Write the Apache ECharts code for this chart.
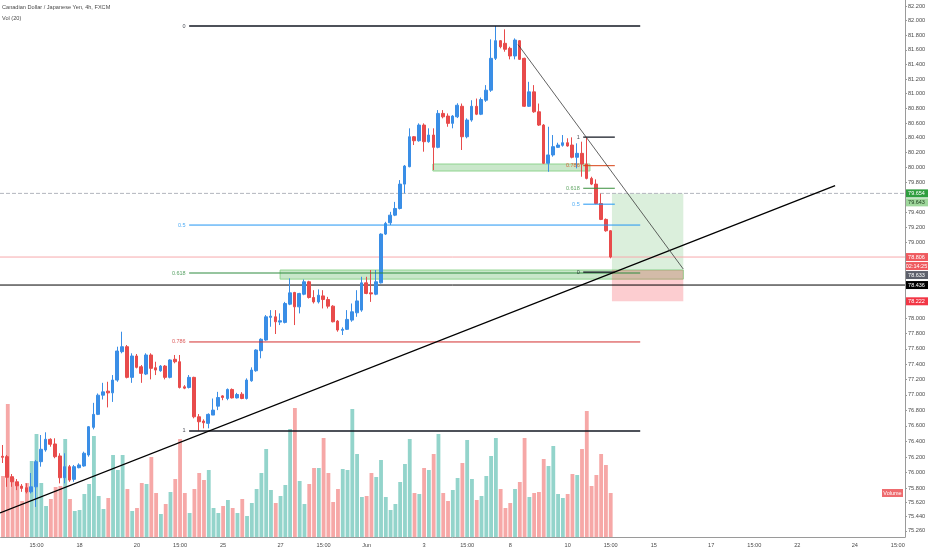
<!DOCTYPE html>
<html>
<head>
<meta charset="utf-8">
<script src="https://cdn.jsdelivr.net/npm/echarts@6/dist/echarts.min.js"></script>
<style>
    html, body { margin: 0; padding: 0; background: #ffffff; }
    #chart { width: 932px; height: 550px; }
</style>
</head>
<body>
<div id="chart"></div>
<script>
// time axis: one slot per 4h bar, labels on a few of them
const barCount = 189;
const tickBars = [7, 16, 28, 37, 46, 58, 67, 76, 88, 97, 106, 118, 127, 136, 148, 157, 166, 178, 187];
const tickTexts = ['15:00', '18', '20', '15:00', '25', '27', '15:00', 'Jun', '3', '15:00', '8', '10', '15:00', '15', '17', '15:00', '22', '24', '15:00'];

// price scale labels (chart is on log scale)
const priceTicks = [82.2, 82.0, 81.8, 81.6, 81.4, 81.2, 81.0, 80.8, 80.6, 80.4, 80.2, 80.0, 79.8,
    79.4, 79.2, 79.0, 78.0, 77.8, 77.6, 77.4, 77.2, 77.0, 76.8, 76.6, 76.4, 76.2, 76.0, 75.8,
    75.62, 75.44, 75.26];
const priceRange = [75.183, 82.286];

// [open, close, low, high]
const candles = [
    [76.210, 76.197, 76.124, 76.355], [76.205, 75.941, 75.820, 76.227], [75.949, 75.884, 75.820, 75.983],
    [75.884, 75.833, 75.778, 75.919], [75.829, 75.800, 75.756, 75.855], [75.808, 75.756, 75.736, 75.864],
    [75.756, 75.820, 75.736, 75.996], [75.820, 76.141, 75.564, 76.163], [76.141, 76.300, 76.077, 76.483],
    [76.291, 76.428, 76.269, 76.518], [76.428, 76.364, 76.333, 76.441], [76.368, 76.205, 76.185, 76.441],
    [76.214, 75.936, 75.864, 76.249], [75.936, 76.077, 75.864, 76.249], [76.077, 75.906, 75.884, 76.099],
    [75.915, 76.077, 75.884, 76.099], [76.064, 76.099, 76.056, 76.120], [76.086, 76.249, 76.077, 76.269],
    [76.227, 76.590, 76.205, 76.599], [76.582, 76.749, 76.556, 76.898], [76.749, 76.997, 76.740, 77.019],
    [76.997, 77.040, 76.941, 77.157], [77.049, 77.027, 76.839, 77.171], [77.027, 77.193, 76.910, 77.258],
    [77.193, 77.571, 77.171, 77.627], [77.562, 77.627, 77.541, 77.823], [77.627, 77.228, 77.215, 77.649],
    [77.228, 77.506, 77.157, 77.541], [77.506, 77.358, 77.345, 77.532], [77.366, 77.280, 77.157, 77.388],
    [77.271, 77.519, 77.258, 77.541], [77.519, 77.345, 77.202, 77.541], [77.353, 77.323, 77.258, 77.431],
    [77.314, 77.375, 77.301, 77.388], [77.375, 77.228, 77.202, 77.388], [77.228, 77.454, 77.215, 77.463],
    [77.463, 77.431, 77.411, 77.519], [77.431, 77.097, 77.084, 77.519], [77.105, 77.088, 77.075, 77.127],
    [77.097, 77.228, 77.084, 77.258], [77.228, 76.718, 76.698, 77.236], [76.718, 76.654, 76.539, 76.753],
    [76.663, 76.641, 76.569, 76.685], [76.633, 76.749, 76.569, 76.762], [76.740, 76.804, 76.740, 76.954],
    [76.855, 76.967, 76.804, 77.040], [76.988, 76.967, 76.932, 76.997], [76.954, 77.071, 76.932, 77.084],
    [77.071, 76.962, 76.954, 77.084], [76.962, 77.006, 76.954, 77.027], [77.010, 76.954, 76.945, 77.036],
    [76.954, 77.193, 76.941, 77.215], [77.184, 77.323, 77.171, 77.358], [77.314, 77.584, 77.301, 77.593],
    [77.575, 77.724, 77.476, 77.737], [77.714, 78.018, 77.705, 78.041], [78.011, 78.027, 77.888, 78.106],
    [78.018, 77.953, 77.793, 78.106], [77.949, 77.966, 77.910, 78.063], [77.945, 78.193, 77.932, 78.214],
    [78.184, 78.333, 78.171, 78.524], [78.338, 78.149, 77.910, 78.346], [78.149, 78.325, 78.063, 78.333],
    [78.315, 78.479, 78.302, 78.510], [78.479, 78.272, 78.258, 78.492], [78.272, 78.214, 78.193, 78.368],
    [78.214, 78.302, 78.193, 78.378], [78.293, 78.245, 78.128, 78.368], [78.245, 78.158, 78.128, 78.280],
    [78.158, 77.953, 77.945, 78.171], [77.962, 77.845, 77.823, 77.975], [77.841, 77.854, 77.780, 77.880],
    [77.854, 77.984, 77.845, 78.106], [77.975, 78.084, 77.953, 78.193], [78.071, 78.227, 78.018, 78.368],
    [78.106, 78.465, 78.084, 78.545], [78.465, 78.325, 78.315, 78.545], [78.333, 78.319, 78.214, 78.634],
    [78.315, 78.479, 78.302, 78.634], [78.465, 79.111, 78.457, 79.121], [79.111, 79.253, 79.098, 79.274],
    [79.261, 79.363, 79.231, 79.407], [79.363, 79.452, 79.350, 79.540], [79.452, 79.778, 79.439, 79.832],
    [79.778, 80.021, 79.653, 80.035], [80.012, 80.416, 80.004, 80.530], [80.416, 80.362, 80.304, 80.426],
    [80.362, 80.574, 80.349, 80.597], [80.574, 80.349, 80.214, 80.597], [80.349, 80.439, 80.335, 80.530],
    [80.439, 80.273, 79.967, 80.530], [80.273, 80.732, 80.260, 80.777], [80.732, 80.686, 80.665, 80.777],
    [80.696, 80.597, 80.551, 80.732], [80.597, 80.696, 80.530, 80.709], [80.686, 80.843, 80.669, 80.870],
    [80.829, 80.416, 80.237, 80.866], [80.416, 80.642, 80.395, 80.665], [80.642, 80.829, 80.619, 80.911],
    [80.829, 80.721, 80.709, 80.934], [80.721, 80.921, 80.709, 80.948], [80.911, 81.048, 80.888, 81.117],
    [81.048, 81.483, 81.025, 81.744], [81.483, 81.725, 81.460, 81.927], [81.725, 81.642, 81.620, 81.734],
    [81.689, 81.607, 81.574, 81.881], [81.620, 81.515, 81.469, 81.642], [81.515, 81.734, 81.469, 81.757],
    [81.725, 81.469, 81.460, 81.734], [81.483, 80.829, 80.819, 81.491], [80.829, 81.025, 80.819, 81.162],
    [81.025, 80.754, 80.740, 81.117], [80.754, 80.574, 80.561, 80.866], [80.574, 80.058, 80.048, 80.588],
    [80.058, 80.170, 79.944, 80.551], [80.170, 80.282, 80.147, 80.439], [80.273, 80.304, 80.264, 80.335],
    [80.300, 80.335, 80.282, 80.439], [80.335, 80.291, 80.282, 80.395], [80.304, 80.139, 80.125, 80.408],
    [80.139, 80.192, 79.990, 80.327], [80.192, 80.048, 79.877, 80.349], [80.048, 79.855, 79.842, 80.412],
    [79.855, 79.778, 79.765, 79.877], [79.778, 79.518, 79.509, 79.842], [79.518, 79.306, 79.297, 79.651],
    [79.306, 79.155, 79.142, 79.319], [79.155, 78.806, 78.789, 79.164]
];

const volumes = [
    6100, 13300, 5900, 5300, 3600, 5400, 7600, 10300, 5400, 3100,
    3800, 5000, 5100, 9800, 3800, 2600, 2700, 4300, 5300, 10100,
    4100, 2800, 3900, 8200, 6700, 8200, 4800, 2600, 2900, 5400,
    5300, 8000, 4400, 2300, 3300, 4500, 5800, 9800, 4400, 2400,
    4800, 6400, 5700, 6700, 2900, 2400, 3100, 3700, 2900, 2400,
    3800, 2100, 3400, 4800, 6400, 8800, 4700, 3400, 4100, 5200,
    10800, 12900, 5600, 3300, 5300, 6900, 6900, 9900, 6400, 3500,
    4800, 6800, 6700, 12800, 8300, 4000, 4100, 6400, 6000, 7700,
    4000, 2700, 3300, 5500, 7300, 9800, 4400, 4300, 6900, 6700,
    8300, 10300, 4400, 3600, 4700, 5900, 7400, 9700, 5800, 3700,
    4100, 6100, 8100, 9900, 4800, 2900, 3400, 4800, 5500, 9900,
    4000, 4400, 4500, 7800, 7100, 9100, 4300, 3900, 4300, 6300,
    6200, 8800, 12600, 5100, 6200, 8300, 7200, 4400
];
const volumeMax = 16100;

// drawings (bar index, price)
const bigFibLevels = [0, 0.5, 0.618, 0.786, 1];
const bigFibColors = ['#131722', '#2196f3', '#2e8b3e', '#d32f2f', '#131722'];
const bigFibPrices = [81.927, 76.535];
const bigFibBars = [39, 133.2];

const smallFibLevels = [1, 0.786, 0.618, 0.5, 0];
const smallFibColors = ['#131722', '#d84315', '#388e3c', '#2196f3', '#131722'];
const smallFibPrices = [78.607, 80.412];
const smallFibBars = [121.3, 127.9];

const zoneBars = [[89.9, 122.7], [58.0, 142.2]];
const zonePrices = [[79.954, 80.048], [78.514, 78.634]];

const positionBars = [127.3, 142.2];
const positionPrices = [78.222, 78.633, 79.654]; // stop, entry, target

const trendBars = [-0.5, 173.9];
const trendPrices = [75.487, 79.757];
const fallBars = [107.7, 142.2];
const fallPrices = [81.671, 78.647];

const levelPrices = [79.654, 78.806, 78.436];
const levelColors = ['#b2b5be', '#f7a9ac', '#000000'];
const levelTypes = ['dashed', 'solid', 'solid'];

const badgeTexts = ['79.654', '79.643', '78.806', '02:14:25', '78.633', '78.436', '78.222'];
const badgePrices = [79.654, 79.643, 78.806, 78.806, 78.633, 78.436, 78.222];
const badgeBgs = ['#2e9e3e', '#9fd79c', '#ef5a5f', '#ef5a5f', '#5d606b', '#000000', '#f23645'];
const badgeFgs = ['#ffffff', '#1b3d1c', '#ffffff', '#ffffff', '#ffffff', '#ffffff', '#ffffff'];

const font = '"Liberation Sans", Arial, sans-serif';
const ln = Math.log;

const categories = Array.from({ length: barCount }, (_, i) => String(i));
const labelAt = {};
tickBars.forEach((b, k) => { labelAt[b] = tickTexts[k]; });

const chart = echarts.init(document.getElementById('chart'));

function segment(bars, prices, color, width, type) {
    return {
        type: 'line', xAxisIndex: 1, yAxisIndex: 0, silent: true, symbol: 'none', z: 5,
        data: [[bars[0], ln(prices[0])], [bars[1], ln(prices[1])]],
        lineStyle: { color: color, width: width, type: type || 'solid' }
    };
}

function fibSeries(levels, colors, prices, bars, width) {
    const list = [];
    const labels = [];
    levels.forEach((lv, k) => {
        const p = prices[0] + lv * (prices[1] - prices[0]);
        const w = colors[k] === '#131722' ? width + 0.3 : width;
        list.push(segment(bars, [p, p], colors[k], w));
        labels.push({ name: String(lv), value: [bars[0], ln(p)], label: { color: colors[k] } });
    });
    list.push({
        type: 'scatter', xAxisIndex: 1, yAxisIndex: 0, silent: true, z: 6,
        symbolSize: 1, itemStyle: { color: 'rgba(0,0,0,0)' },
        label: { show: true, position: 'left', distance: 3, formatter: '{b}', fontSize: 5.5, fontFamily: font },
        data: labels
    });
    return list;
}

// full-width horizontal levels
const levelSeries = levelPrices.map((p, k) => {
    const s = segment([-0.5, barCount - 0.5], [p, p], levelColors[k], 1, levelTypes[k]);
    s.z = 2;
    return s;
});

const areas = zoneBars.map((b, k) => [
    { coord: [b[0], ln(zonePrices[k][1])], itemStyle: { color: 'rgba(76,175,80,0.3)', borderColor: '#8fd48f', borderWidth: 1 } },
    { coord: [b[1], ln(zonePrices[k][0])] }
]);
areas.push([
    { coord: [positionBars[0], ln(positionPrices[2])], itemStyle: { color: 'rgba(76,175,80,0.2)' } },
    { coord: [positionBars[1], ln(positionPrices[1])] }
]);
areas.push([
    { coord: [positionBars[0], ln(positionPrices[1])], itemStyle: { color: 'rgba(242,54,69,0.25)' } },
    { coord: [positionBars[1], ln(positionPrices[0])] }
]);

const volumeData = volumes.map((v, i) => ({
    value: v,
    itemStyle: { color: candles[i][1] >= candles[i][0] ? '#93d4cb' : '#f6a8a7' }
}));

const option = {
    animation: false,
    backgroundColor: '#ffffff',
    title: [
        { text: 'Canadian Dollar / Japanese Yen, 4h, FXCM', left: 2, top: 4, padding: 0, textStyle: { fontSize: 5.6, fontWeight: 'normal', color: '#4a4a4a', fontFamily: font } },
        { text: 'Vol (20)', left: 2, top: 15, padding: 0, textStyle: { fontSize: 5.6, fontWeight: 'normal', color: '#4a4a4a', fontFamily: font } }
    ],
    grid: [
        { left: 0, right: 27, top: 0, bottom: 13 },
        { left: 0, right: 27, top: 376, bottom: 13 }
    ],
    xAxis: [
        { type: 'category', gridIndex: 0, data: categories, show: false, boundaryGap: true },
        { type: 'value', gridIndex: 0, min: -0.5, max: barCount - 0.5, show: false },
        {
            type: 'category', gridIndex: 1, data: categories, boundaryGap: true,
            axisLine: { onZero: false, lineStyle: { color: '#9a9a9a', width: 1 } },
            axisTick: { show: false },
            axisLabel: {
                interval: 0, margin: 5, fontSize: 5.6, color: '#4a4a4a', fontFamily: font,
                formatter: (v, i) => labelAt[i] || ''
            }
        }
    ],
    yAxis: [
        {
            type: 'value', gridIndex: 0, position: 'right', scale: true,
            min: ln(priceRange[0]), max: ln(priceRange[1]),
            splitLine: { show: false },
            axisLine: { show: true, onZero: false, lineStyle: { color: '#9a9a9a', width: 1 } },
            axisTick: { show: true, length: 2, customValues: priceTicks.map(ln), lineStyle: { color: '#9a9a9a' } },
            axisLabel: {
                customValues: priceTicks.map(ln), margin: 3, fontSize: 5.6, color: '#4a4a4a', fontFamily: font,
                formatter: v => Math.exp(v).toFixed(3)
            }
        },
        { type: 'value', gridIndex: 1, min: 0, max: volumeMax, show: false }
    ],
    series: [
        {
            type: 'bar', xAxisIndex: 2, yAxisIndex: 1, barWidth: '80%', silent: true, z: 1,
            data: volumeData
        },
        {
            type: 'line', xAxisIndex: 1, yAxisIndex: 0, data: [], silent: true, z: 1,
            markArea: { silent: true, label: { show: false }, data: areas }
        },
        ...levelSeries,
        {
            type: 'candlestick', xAxisIndex: 0, yAxisIndex: 0, barWidth: '66%', z: 3,
            data: candles.map(r => r.map(ln)),
            itemStyle: {
                color: '#3a8ee6', color0: '#e84b4b',
                borderColor: '#3a8ee6', borderColor0: '#e84b4b', borderWidth: 1
            }
        },
        ...fibSeries(bigFibLevels, bigFibColors, bigFibPrices, bigFibBars, 1),
        ...fibSeries(smallFibLevels, smallFibColors, smallFibPrices, smallFibBars, 1),
        segment(trendBars, trendPrices, '#000000', 1.3),
        segment(fallBars, fallPrices, '#3a3a3a', 0.8)
    ]
};

chart.setOption(option);

// price badges on the right scale, pushed apart when they overlap
const badgeEls = [];
let prevTop = -100;
badgeTexts.forEach((t, k) => {
    const top = Math.max(chart.convertToPixel({ yAxisIndex: 0 }, ln(badgePrices[k])) - 4, prevTop + 9);
    prevTop = top;
    badgeEls.push({
        type: 'group', x: 905, y: top, z: 50, children: [
            { type: 'rect', shape: { x: 0, y: 0, width: 23, height: 8 }, style: { fill: badgeBgs[k] } },
            { type: 'text', x: 11.5, y: 4.3, style: { text: t, fill: badgeFgs[k], fontSize: 5.5, fontFamily: font, align: 'center', verticalAlign: 'middle' } }
        ]
    });
});
const volY = chart.convertToPixel({ yAxisIndex: 1 }, volumes[volumes.length - 1]);
badgeEls.push({
    type: 'group', x: 882, y: volY - 4, z: 50, children: [
        { type: 'rect', shape: { x: 0, y: 0, width: 21, height: 8 }, style: { fill: '#ee6b6e' } },
        { type: 'text', x: 10.5, y: 4.3, style: { text: 'Volume', fill: '#ffffff', fontSize: 5.5, fontFamily: font, align: 'center', verticalAlign: 'middle' } }
    ]
});
chart.setOption({ graphic: badgeEls });

window.addEventListener('resize', () => chart.resize());
</script>
</body>
</html>
